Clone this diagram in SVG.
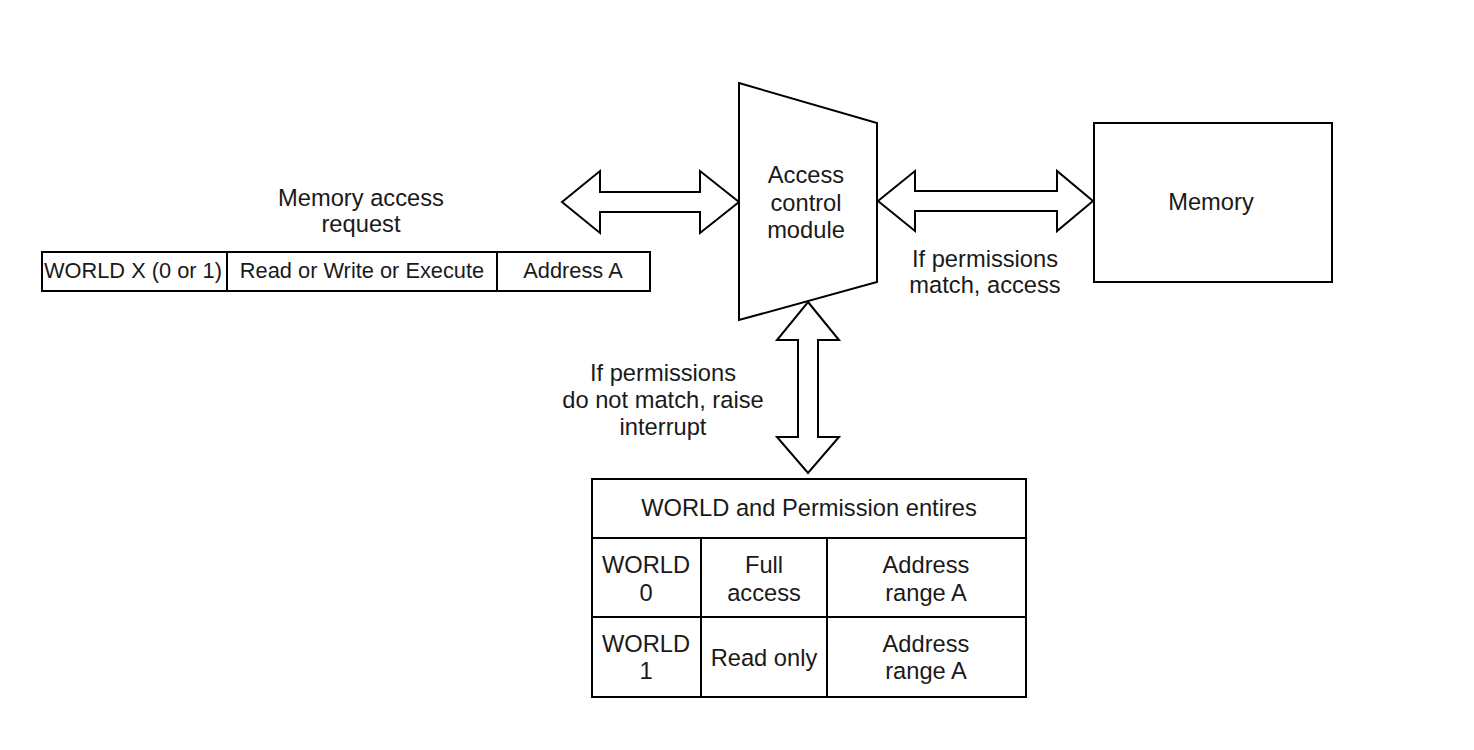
<svg xmlns="http://www.w3.org/2000/svg" width="1474" height="750" viewBox="0 0 1474 750">
<style>
.s{fill:#fff;stroke:#000;stroke-width:2}
.l{fill:none;stroke:#000;stroke-width:2}
text{font-family:"Liberation Sans",Arial,sans-serif;font-size:23.7px;fill:#1a1a1a;text-anchor:middle}
.sm{font-size:21.8px}
</style>
<rect width="1474" height="750" fill="#fff"/>
<g id="connectors">
<polygon class="s" points="562,202 600,171 600,192 700,192 700,171 739,202 700,233 700,212 600,212 600,233"/>
<polygon class="s" points="878,201 915,171 915,191 1057,191 1057,171 1093,201 1057,231 1057,211 915,211 915,231"/>
<polygon class="s" points="808,302 839,340 818,340 818,437 839,437 808,473 777,437 798,437 798,340 777,340"/>
</g>
<g id="request-label">
<text x="361" y="206">Memory access</text>
<text x="361" y="232">request</text>
</g>
<g id="request">
<rect class="s" x="42" y="252" width="608" height="39"/>
<line class="l" x1="227" y1="252" x2="227" y2="291"/>
<line class="l" x1="497" y1="252" x2="497" y2="291"/>
<text class="sm" x="133" y="278">WORLD X (0 or 1)</text>
<text class="sm" x="362" y="278">Read or Write or Execute</text>
<text class="sm" x="573" y="278">Address A</text>
</g>
<g id="acm">
<polygon class="s" points="739,83 877,123 877,282 739,320"/>
<text x="806" y="183">Access</text>
<text x="806" y="211">control</text>
<text x="806" y="238">module</text>
</g>
<g id="memory">
<rect class="s" x="1094" y="123" width="238" height="159"/>
<text x="1211" y="210">Memory</text>
</g>
<g id="match-label">
<text x="985" y="267">If permissions</text>
<text x="985" y="293">match, access</text>
</g>
<g id="nomatch-label">
<text x="663" y="381">If permissions</text>
<text x="663" y="408">do not match, raise</text>
<text x="663" y="435">interrupt</text>
</g>
<g id="table">
<rect class="s" x="592" y="479" width="434" height="218"/>
<line class="l" x1="592" y1="538" x2="1026" y2="538"/>
<line class="l" x1="592" y1="617" x2="1026" y2="617"/>
<line class="l" x1="701" y1="538" x2="701" y2="697"/>
<line class="l" x1="827" y1="538" x2="827" y2="697"/>
<text x="809" y="516">WORLD and Permission entires</text>
<text x="646" y="573">WORLD</text>
<text x="646" y="601">0</text>
<text x="764" y="573">Full</text>
<text x="764" y="601">access</text>
<text x="926" y="573">Address</text>
<text x="926" y="601">range A</text>
<text x="646" y="652">WORLD</text>
<text x="646" y="679">1</text>
<text x="764" y="666">Read only</text>
<text x="926" y="652">Address</text>
<text x="926" y="679">range A</text>
</g>
</svg>
